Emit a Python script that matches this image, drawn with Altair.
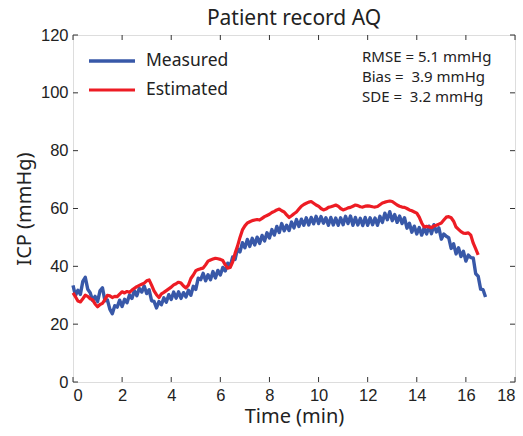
import altair as alt
import pandas as pd

# ---------------- data ----------------
t_measured = [round(i * 0.1, 1) for i in range(169)]  # 0.0 .. 16.8 min
measured = [
    33.4, 29.9, 31.7, 30.3, 34.8, 36.2, 32.1, 30.9, 28.2, 29.6,
    27.8, 31.5, 32.6, 28.1, 28.4, 25.2, 23.6, 26.4, 25.9, 28.3,
    26.1, 28.6, 27.4, 30.1, 28.9, 31.6, 29.8, 32.4, 31.1, 33.2,
    30.6, 31.9, 28.1, 27.9, 25.6, 27.8, 26.7, 29.1, 27.6, 30.2,
    28.5, 31.1, 29.0, 31.2, 28.9, 30.9, 29.4, 31.7, 30.0, 33.1,
    32.0, 35.9, 35.4, 37.6, 35.0, 37.1, 35.4, 38.2, 36.0, 38.6,
    37.0, 39.6, 38.4, 41.1, 40.0, 43.2, 42.4, 46.1, 45.0, 48.2,
    46.4, 49.3, 46.9, 49.7, 47.4, 50.1, 47.9, 50.7, 48.8, 51.6,
    49.8, 52.7, 50.8, 53.8, 51.7, 54.8, 52.3, 54.2, 52.4, 55.3,
    53.3, 56.2, 53.8, 56.3, 54.2, 56.8, 54.3, 56.9, 54.7, 57.3,
    54.8, 57.2, 54.9, 56.8, 54.2, 56.9, 54.3, 56.7, 54.2, 56.8,
    54.4, 57.3, 54.8, 57.4, 54.2, 56.9, 54.3, 56.6, 54.1, 56.9,
    54.2, 56.8, 54.4, 56.7, 54.2, 57.3, 55.2, 58.4, 56.1, 58.9,
    55.8, 57.9, 55.2, 57.4, 54.8, 56.8, 53.2, 54.9, 51.8, 53.9,
    51.2, 53.4, 50.8, 53.3, 51.2, 53.9, 51.3, 54.4, 51.9, 53.3,
    49.4, 51.2, 50.4, 49.9, 46.2, 47.8, 44.3, 46.4, 43.4, 45.2,
    41.8, 43.9, 43.0, 42.9, 37.4, 36.6, 32.1, 31.9, 29.4,
]

t_estimated = [round(i * 0.1, 1) for i in range(166)]  # 0.0 .. 16.5 min
estimated = [
    30.8, 29.5, 28.0, 27.7, 28.8, 30.0, 29.6, 28.8, 28.4, 27.0,
    26.0, 26.8, 27.2, 28.5, 30.0, 29.8, 29.2, 29.6, 29.5, 30.4,
    31.2, 30.8, 31.3, 31.0, 31.8, 32.4, 33.0, 33.4, 33.8, 34.2,
    35.0, 35.3, 33.5, 31.5, 30.2, 29.2, 30.5, 31.0, 31.6, 32.2,
    32.8, 33.6, 34.0, 34.5, 34.2, 33.2, 32.5, 33.5, 35.8, 37.0,
    38.5, 38.9, 39.2, 39.4, 40.5, 41.8, 42.2, 42.5, 42.8, 42.6,
    42.4, 42.0, 40.5, 39.4, 39.6, 41.5, 44.5, 47.0, 50.0, 52.6,
    54.0, 55.0, 55.4, 55.8, 56.0, 56.2, 56.0, 56.6, 57.2, 57.6,
    58.0, 58.6, 59.0, 59.5, 59.8, 59.2, 58.8, 57.8, 56.9, 57.5,
    58.2, 58.8, 59.8, 60.8, 61.4, 61.8, 62.2, 62.4, 61.8, 61.2,
    60.8, 60.0, 59.5, 59.8, 60.4, 60.6, 60.9, 61.2, 60.8, 60.0,
    59.5, 59.8, 60.2, 60.4, 60.8, 61.2, 61.0, 60.6, 60.5, 60.8,
    60.9, 60.8, 60.6, 60.5, 60.7, 61.3, 61.9, 62.2, 62.4, 62.6,
    62.4, 61.8, 61.2, 60.8, 60.5, 60.4, 60.0, 59.5, 59.2, 58.8,
    58.4, 57.0, 55.0, 53.6, 53.8, 53.6, 53.4, 54.0, 54.2, 54.6,
    55.0, 56.0, 57.0, 57.2, 56.8, 55.6, 53.6, 52.8, 52.0, 51.5,
    51.4, 51.6, 50.8, 48.0, 46.0, 44.0,
]

series_names = ["Measured", "Estimated"]
series_colors = ["#3858a8", "#ed1c24"]
x_ticks = [0, 2, 4, 6, 8, 10, 12, 14, 16, 18]
y_ticks = [0, 20, 40, 60, 80, 100, 120]
stats_lines = ["RMSE = 5.1 mmHg", "Bias =\u00a0 3.9 mmHg", "SDE =\u00a0 3.2 mmHg"]

# ---------------- layout ----------------
W, H = 442, 347
TICK = 5
LABEL_FONT = "Liberation Sans"
TEXT_FONT = "Noto Sans"

df = pd.concat([
    pd.DataFrame({"t": t_measured, "icp": measured, "series": "Measured", "ord": 0}),
    pd.DataFrame({"t": t_estimated, "icp": estimated, "series": "Estimated", "ord": 1}),
], ignore_index=True)

xscale = alt.Scale(domain=[0, 18], nice=False)
yscale = alt.Scale(domain=[0, 120], nice=False)

lines = alt.Chart(df).mark_line(strokeJoin="round").encode(
    x=alt.X("t:Q", scale=xscale, axis=alt.Axis(
        title="Time (min)", values=x_ticks, ticks=False, domain=False, grid=False,
        labelFont=LABEL_FONT, labelFontSize=16.5, labelColor="#222", labelPadding=5,
        titleFont=TEXT_FONT, titleFontSize=20, titleFontWeight="normal",
        titleColor="#222", titlePadding=3)),
    y=alt.Y("icp:Q", scale=yscale, axis=alt.Axis(
        title="ICP (mmHg)", values=y_ticks, ticks=False, domain=False, grid=False,
        labelFont=LABEL_FONT, labelFontSize=16.5, labelColor="#222", labelPadding=5,
        titleFont=TEXT_FONT, titleFontSize=20, titleFontWeight="normal",
        titleColor="#222", titlePadding=6)),
    color=alt.Color("series:N", scale=alt.Scale(domain=series_names, range=series_colors),
                    legend=alt.Legend(
                        title=None, orient="none", legendX=14, legendY=16,
                        symbolType="stroke", symbolSize=2116, symbolStrokeWidth=5,
                        clipHeight=20, rowPadding=9,
                        labelFont=TEXT_FONT, labelFontSize=17.5, labelColor="#222",
                        labelOffset=9)),
    strokeWidth=alt.StrokeWidth("series:N", scale=alt.Scale(domain=series_names, range=[3.4, 3.2]),
                                legend=None),
    order="ord:Q",
    detail="series:N",
)

xt = pd.DataFrame({"v": x_ticks})
yt = pd.DataFrame({"v": y_ticks})
tick_color = "#333"
bottom_ticks = alt.Chart(xt).mark_rule(color=tick_color, strokeWidth=1).encode(
    x=alt.X("v:Q", scale=xscale), y=alt.value(H), y2=alt.value(H - TICK))
top_ticks = alt.Chart(xt).mark_rule(color=tick_color, strokeWidth=1).encode(
    x=alt.X("v:Q", scale=xscale), y=alt.value(0), y2=alt.value(TICK))
left_ticks = alt.Chart(yt).mark_rule(color=tick_color, strokeWidth=1).encode(
    y=alt.Y("v:Q", scale=yscale), x=alt.value(0), x2=alt.value(TICK))
right_ticks = alt.Chart(yt).mark_rule(color=tick_color, strokeWidth=1).encode(
    y=alt.Y("v:Q", scale=yscale), x=alt.value(W), x2=alt.value(W - TICK))

stats_df = pd.DataFrame({"txt": ["\n".join(stats_lines)]})
stats = alt.Chart(stats_df).mark_text(
    align="left", baseline="middle", font=TEXT_FONT, fontSize=15, color="#222",
    lineBreak="\n", lineHeight=20
).encode(
    text="txt:N",
    x=alt.value(289),
    y=alt.value(22),
)

chart = alt.layer(
    lines, bottom_ticks, top_ticks, left_ticks, right_ticks, stats
).properties(
    width=W, height=H,
    title=alt.TitleParams("Patient record AQ", font=TEXT_FONT, fontSize=21,
                          fontWeight="normal", color="#222", anchor="middle", offset=-2),
    autosize=alt.AutoSizeParams(type="none"),
    padding={"left": 73, "top": 35, "right": 8, "bottom": 54},
).configure_view(stroke="#333", strokeWidth=1.2).configure(background="white")

chart.save("out.html", embed_options={"renderer": "svg", "actions": False})
